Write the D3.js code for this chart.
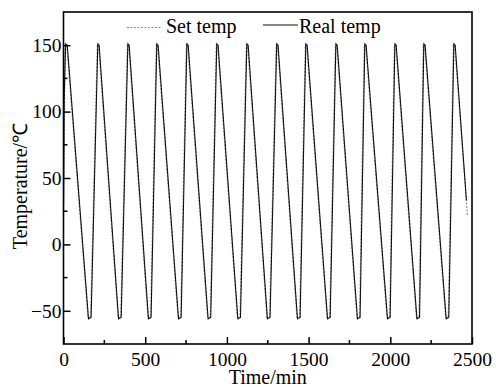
<!DOCTYPE html>
<html>
<head>
<meta charset="utf-8">
<script src="https://cdn.jsdelivr.net/npm/d3@7"></script>
<style>
	body { margin: 0; background: #fff; }
	svg { display: block; }
	text { font-family: "Liberation Serif", "Times New Roman", serif; }
</style>
</head>
<body>
<div id="box"></div>
<script>
// set temperature program: breakpoints (time in min, temp in °C)
const setTime = [0, 10, 20, 150, 166, 207, 215, 334, 350, 391, 399, 517, 533, 568, 576,
	701, 717, 752, 760, 882, 898, 935, 943, 1064, 1080, 1119, 1127, 1245, 1261, 1302, 1310,
	1429, 1445, 1480, 1488, 1613, 1629, 1664, 1672, 1796, 1812, 1841, 1849, 1980, 1996,
	2025, 2033, 2160, 2176, 2202, 2210, 2339, 2355, 2386, 2394, 2472];
const setTemp = [30, 150, 150, -55, -55, 150, 150, -55, -55, 150, 150, -55, -55, 150, 150,
	-55, -55, 150, 150, -55, -55, 150, 150, -55, -55, 150, 150, -55, -55, 150, 150,
	-55, -55, 150, 150, -55, -55, 150, 150, -55, -55, 150, 150, -55, -55,
	150, 150, -55, -55, 150, 150, -55, -55, 150, 150, 22];

// measured temperature
const realTime = [0, 4, 13, 23, 153, 169, 210, 218, 337, 353, 394, 402, 520, 536, 571, 579,
	704, 720, 755, 763, 885, 901, 938, 946, 1067, 1083, 1122, 1130, 1248, 1264, 1305, 1313,
	1432, 1448, 1483, 1491, 1616, 1632, 1667, 1675, 1799, 1815, 1844, 1852, 1983, 1999,
	2028, 2036, 2163, 2179, 2205, 2213, 2342, 2358, 2389, 2397, 2466];
const realTemp = [25, 110, 151, 150, -56, -55, 151, 150, -56, -55, 151, 150, -56, -55, 151, 150,
	-56, -55, 151, 150, -56, -55, 151, 150, -56, -55, 151, 150, -56, -55, 151, 150,
	-56, -55, 151, 150, -56, -55, 151, 150, -56, -55, 151, 150, -56, -55,
	151, 150, -56, -55, 151, 150, -56, -55, 151, 150, 33];

const xTicks = [0, 500, 1000, 1500, 2000, 2500];
const xMinor = [250, 750, 1250, 1750, 2250];
const yTicks = [-50, 0, 50, 100, 150];
const yMinor = [-25, 25, 75, 125];

const width = 496;
const height = 387;
const marginTop = 12;
const marginRight = 24;
const marginBottom = 43;
const marginLeft = 63.5;

const xScale = d3.scaleLinear([0, 2500], [marginLeft, width - marginRight]);
const yScale = d3.scaleLinear([-75, 175], [height - marginBottom, marginTop]);

const svg = d3.select('#box').append('svg')
	.attr('width', width)
	.attr('height', height)
	.attr('viewBox', [0, 0, width, height]);

// series
const line = d3.line()
	.x(d => xScale(d[0]))
	.y(d => yScale(d[1]));

const setPts = setTime.map((t, i) => [t, setTemp[i]]);
const realPts = realTime.map((t, i) => [t, realTemp[i]]);

svg.append('path')
	.attr('fill', 'none')
	.attr('stroke', '#8c8c8c')
	.attr('stroke-width', 1.2)
	.attr('stroke-dasharray', '2,1.5')
	.attr('d', line(setPts));

svg.append('path')
	.attr('fill', 'none')
	.attr('stroke', '#111')
	.attr('stroke-width', 1.1)
	.attr('d', line(realPts));

// axes, ticks inward
const xAxis = d3.axisBottom(xScale).tickValues(xTicks).tickSize(-7).tickPadding(8).tickFormat(d3.format('d'));
const yAxis = d3.axisLeft(yScale).tickValues(yTicks).tickSize(-7).tickPadding(2).tickFormat(d => d < 0 ? '\u2212' + (-d) : d);

svg.append('g')
	.attr('transform', `translate(0,${height - marginBottom})`)
	.call(xAxis)
	.call(g => g.select('.domain').remove())
	.call(g => g.selectAll('.tick line').attr('stroke', '#000').attr('stroke-width', 1.5))
	.call(g => g.selectAll('.tick text').attr('font-size', 19.5).attr('fill', '#000')
		.attr('font-family', '"Liberation Serif", serif'));

svg.append('g')
	.attr('transform', `translate(${marginLeft},0)`)
	.call(yAxis)
	.call(g => g.select('.domain').remove())
	.call(g => g.selectAll('.tick line').attr('stroke', '#000').attr('stroke-width', 1.5))
	.call(g => g.selectAll('.tick text').attr('font-size', 19.5).attr('fill', '#000')
		.attr('font-family', '"Liberation Serif", serif'));

svg.append('g')
	.selectAll('line')
	.data(xMinor)
	.join('line')
	.attr('x1', d => xScale(d))
	.attr('x2', d => xScale(d))
	.attr('y1', height - marginBottom)
	.attr('y2', height - marginBottom - 4)
	.attr('stroke', '#000')
	.attr('stroke-width', 1.5);

svg.append('g')
	.selectAll('line')
	.data(yMinor)
	.join('line')
	.attr('x1', marginLeft)
	.attr('x2', marginLeft + 4)
	.attr('y1', d => yScale(d))
	.attr('y2', d => yScale(d))
	.attr('stroke', '#000')
	.attr('stroke-width', 1.5);

// frame
svg.append('rect')
	.attr('x', marginLeft)
	.attr('y', marginTop)
	.attr('width', width - marginLeft - marginRight)
	.attr('height', height - marginTop - marginBottom)
	.attr('fill', 'none')
	.attr('stroke', '#000')
	.attr('stroke-width', 1.6);

// axis titles
svg.append('text')
	.attr('x', (marginLeft + width - marginRight) / 2)
	.attr('y', 384)
	.attr('text-anchor', 'middle')
	.attr('font-size', 20)
	.text('Time/min');

svg.append('text')
	.attr('transform', `translate(27,${186}) rotate(-90)`)
	.attr('text-anchor', 'middle')
	.attr('font-size', 20)
	.text('Temperature/℃');

// legend
const legend = svg.append('g');
legend.append('line')
	.attr('x1', 127).attr('x2', 162)
	.attr('y1', 27.5).attr('y2', 27.5)
	.attr('stroke', '#8c8c8c')
	.attr('stroke-width', 1.2)
	.attr('stroke-dasharray', '2,1.5');
legend.append('text')
	.attr('x', 166).attr('y', 33)
	.attr('font-size', 20)
	.text('Set temp');
legend.append('line')
	.attr('x1', 263).attr('x2', 298)
	.attr('y1', 25).attr('y2', 25)
	.attr('stroke', '#111')
	.attr('stroke-width', 1.2);
legend.append('text')
	.attr('x', 299).attr('y', 33)
	.attr('font-size', 20)
	.text('Real temp');
</script>
</body>
</html>
